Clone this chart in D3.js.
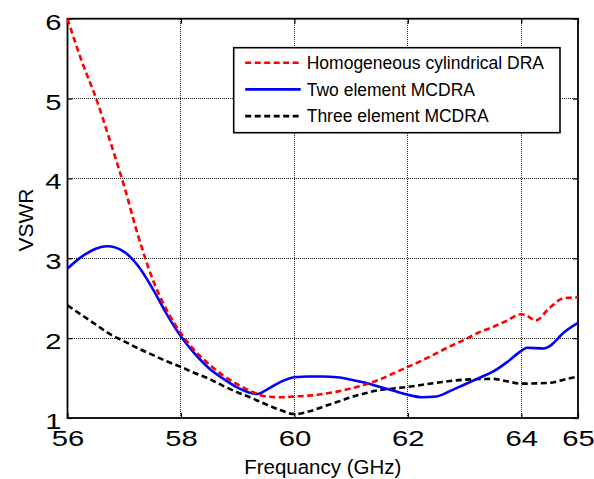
<!DOCTYPE html>
<html>
<head>
<meta charset="utf-8">
<script src="https://cdn.jsdelivr.net/npm/d3@7"></script>
<style>
  body { margin: 0; background: #fff; }
  text { font-family: "Liberation Sans", Arial, sans-serif; fill: #000; }
</style>
</head>
<body>
<svg id="chart" width="594" height="479"></svg>
<script>
// frequency (GHz) and VSWR
var homoFreq = [56, 56.25, 56.5, 56.75, 57, 57.25, 57.5, 57.75, 58, 58.25, 58.5, 58.75, 59, 59.25, 59.5, 59.75, 60, 60.25, 60.5, 60.75, 61, 61.25, 61.5, 61.75, 62, 62.25, 62.5, 62.75, 63, 63.25, 63.5, 63.75, 64, 64.1, 64.25, 64.5, 64.75, 65];
var homoVswr = [6.0, 5.47, 5.01, 4.47, 3.90, 3.27, 2.74, 2.35, 2.06, 1.84, 1.67, 1.53, 1.42, 1.33, 1.27, 1.26, 1.27, 1.28, 1.30, 1.33, 1.37, 1.42, 1.48, 1.56, 1.64, 1.72, 1.81, 1.90, 1.98, 2.07, 2.14, 2.22, 2.30, 2.28, 2.22, 2.38, 2.50, 2.51];

var twoFreq = [56, 56.25, 56.5, 56.7, 57, 57.25, 57.5, 57.75, 58, 58.25, 58.5, 58.75, 59, 59.25, 59.35, 59.5, 59.75, 60, 60.25, 60.5, 60.75, 61, 61.25, 61.5, 61.75, 62, 62.25, 62.5, 62.75, 63, 63.25, 63.5, 63.75, 64, 64.1, 64.4, 64.5, 64.75, 65];
var twoVswr = [2.87, 3.02, 3.12, 3.15, 3.08, 2.90, 2.62, 2.30, 2.02, 1.80, 1.62, 1.49, 1.38, 1.31, 1.30, 1.35, 1.45, 1.51, 1.52, 1.52, 1.51, 1.48, 1.44, 1.39, 1.34, 1.29, 1.26, 1.27, 1.34, 1.42, 1.50, 1.58, 1.70, 1.84, 1.88, 1.87, 1.90, 2.07, 2.19];

var threeFreq = [56, 56.25, 56.5, 56.75, 57, 57.25, 57.5, 57.75, 58, 58.25, 58.5, 58.75, 59, 59.25, 59.5, 59.75, 60, 60.25, 60.5, 60.75, 61, 61.25, 61.5, 61.75, 62, 62.5, 63, 63.5, 63.75, 64, 64.5, 64.75, 65];
var threeVswr = [2.41, 2.29, 2.17, 2.05, 1.96, 1.87, 1.79, 1.71, 1.64, 1.56, 1.49, 1.40, 1.32, 1.25, 1.17, 1.10, 1.05, 1.08, 1.14, 1.20, 1.26, 1.31, 1.35, 1.37, 1.39, 1.44, 1.48, 1.49, 1.46, 1.43, 1.44, 1.48, 1.52];

var xTicks = [56, 58, 60, 62, 64, 65];
var yTicks = [1, 2, 3, 4, 5, 6];
var seriesNames = ["Homogeneous cylindrical DRA", "Two element MCDRA", "Three element MCDRA"];
var seriesColors = ["#ff0000", "#0000ff", "#000000"];
var seriesDash = ["6,3.5", null, "6,3.5"];

var margin = {top: 18.7, left: 67.5, right: 16, bottom: 61};
var width = 594 - margin.left - margin.right;
var height = 479 - margin.top - margin.bottom;

var svg = d3.select("#chart");
var g = svg.append("g").attr("transform", "translate(" + margin.left + "," + margin.top + ")");

var x = d3.scaleLinear().domain([56, 65]).range([0, width]);
var y = d3.scaleLinear().domain([1, 6]).range([height, 0]);

// dotted grid
g.append("g").selectAll("line").data(xTicks.filter(d => d > 56 && d < 65)).join("line")
  .attr("x1", d => x(d)).attr("x2", d => x(d)).attr("y1", 0).attr("y2", height)
  .attr("stroke", "#222").attr("stroke-width", 1).attr("stroke-dasharray", "1,1")
  .attr("shape-rendering", "crispEdges");
g.append("g").selectAll("line").data(yTicks.filter(d => d > 1 && d < 6)).join("line")
  .attr("y1", d => y(d)).attr("y2", d => y(d)).attr("x1", 0).attr("x2", width)
  .attr("stroke", "#222").attr("stroke-width", 1).attr("stroke-dasharray", "1,1")
  .attr("shape-rendering", "crispEdges");

// axes, ticks pointing inward like matlab
// tick digits in the original are drawn wide, so stretch them sideways
var stretch = 1.3;
var xAxis = g.append("g").attr("transform", "translate(0," + height + ")")
  .call(d3.axisBottom(x).tickValues(xTicks).tickFormat(d3.format("d")).tickSizeInner(-5).tickSizeOuter(0).tickPadding(12));
var yAxis = g.append("g")
  .call(d3.axisLeft(y).tickValues(yTicks).tickFormat(d3.format("d")).tickSizeInner(-5).tickSizeOuter(0).tickPadding(6));
g.append("g")
  .call(d3.axisTop(x).tickValues(xTicks).tickFormat("").tickSizeInner(-5).tickSizeOuter(0));
g.append("g").attr("transform", "translate(" + width + ",0)")
  .call(d3.axisRight(y).tickValues(yTicks).tickFormat("").tickSizeInner(-5).tickSizeOuter(0));
g.selectAll(".domain").remove();
g.selectAll(".tick line").attr("stroke", "#000").attr("stroke-width", 1.2);
xAxis.selectAll("text").style("font-size", "22.5px").attr("fill", "#000")
  .attr("transform", "scale(" + stretch + ",1)");
yAxis.selectAll("text").style("font-size", "22.5px").attr("fill", "#000").attr("dy", "0.47em")
  .attr("x", -6 / stretch).attr("transform", "scale(" + stretch + ",1)");

// frame
g.append("rect").attr("width", width).attr("height", height)
  .attr("fill", "none").attr("stroke", "#000").attr("stroke-width", 1.8);

// curves
var series = [
  {freq: homoFreq, vswr: homoVswr},
  {freq: twoFreq, vswr: twoVswr},
  {freq: threeFreq, vswr: threeVswr}
];
var line = d3.line().x(d => x(d[0])).y(d => y(d[1])).curve(d3.curveMonotoneX);

// draw black first, then blue, then red on top
[2, 1, 0].forEach(i => {
  var pts = series[i].freq.map((f, k) => [f, series[i].vswr[k]]);
  g.append("path").datum(pts)
    .attr("fill", "none")
    .attr("stroke", seriesColors[i])
    .attr("stroke-width", 2.6)
    .attr("stroke-dasharray", seriesDash[i])
    .attr("d", line);
});

// legend
var lg = svg.append("g").attr("transform", "translate(233.7,47.7)");
lg.append("rect").attr("width", 326.3).attr("height", 85)
  .attr("fill", "#fff").attr("stroke", "#000").attr("stroke-width", 1.6);
seriesNames.forEach((name, i) => {
  var ry = 15 + i * 26.7;
  lg.append("line").attr("x1", 11.5).attr("x2", 67).attr("y1", ry).attr("y2", ry)
    .attr("stroke", seriesColors[i]).attr("stroke-width", 2.6)
    .attr("stroke-dasharray", seriesDash[i]);
  lg.append("text").attr("x", 73).attr("y", ry).attr("dy", "0.36em")
    .style("font-size", "17.5px").text(name);
});

// axis titles
svg.append("text")
  .attr("x", margin.left + width / 2).attr("y", 474)
  .attr("text-anchor", "middle").style("font-size", "20.5px")
  .text("Frequancy (GHz)");
svg.append("text")
  .attr("transform", "translate(33,220) rotate(-90)")
  .attr("text-anchor", "middle").style("font-size", "21px")
  .text("VSWR");
</script>
</body>
</html>
